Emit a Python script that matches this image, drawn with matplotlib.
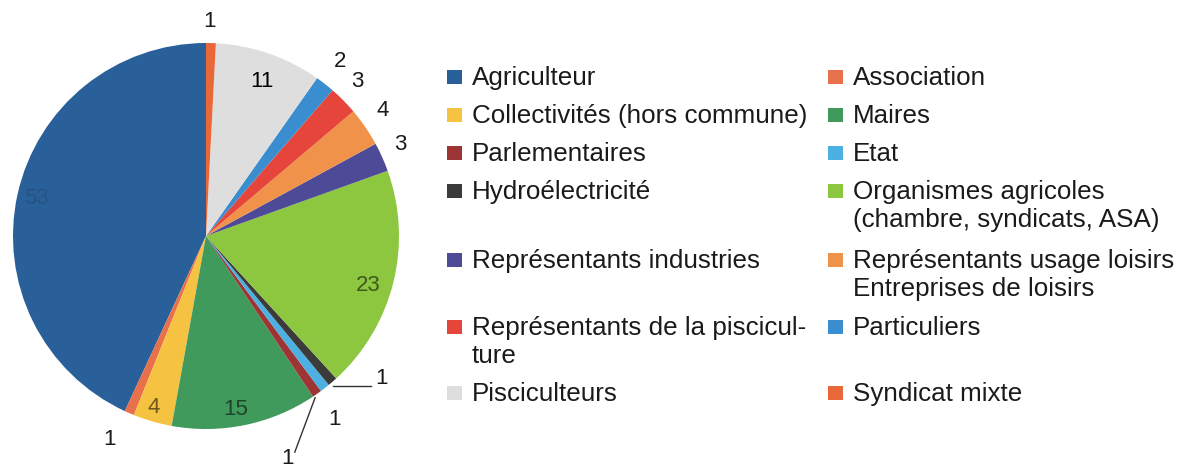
import matplotlib.pyplot as plt
import matplotlib.patches as mpatches
import numpy as np

plt.rcParams['font.family'] = ['Liberation Sans', 'DejaVu Sans']

# data, in the order the pie is drawn (counter-clockwise from the top)
categories = ['Agriculteur', 'Association', 'Collectivités (hors commune)', 'Maires',
              'Parlementaires', 'Etat', 'Hydroélectricité',
              'Organismes agricoles\n(chambre, syndicats, ASA)',
              'Représentants industries',
              'Représentants usage loisirs\nEntreprises de loisirs',
              'Représentants de la piscicul-\nture', 'Particuliers',
              'Pisciculteurs', 'Syndicat mixte']
values = [53, 1, 4, 15, 1, 1, 1, 23, 3, 4, 3, 2, 11, 1]
colors = ['#2a6099', '#e8704a', '#f5c242', '#3f9a5c', '#9e3535', '#4cb0e2',
          '#3b3b3b', '#8dc63f', '#4d4a98', '#f0924a', '#e6453b', '#3a8dce',
          '#dedede', '#e8683a']

fig = plt.figure(figsize=(11.79, 4.70), dpi=100)
ax = fig.add_axes([13 / 1179, 41 / 470, 386 / 1179, 386 / 470])
wedges, _ = ax.pie(values, colors=colors, startangle=90, counterclock=True,
                   wedgeprops=dict(linewidth=0))
ax.set_aspect('equal')
ax.set_xlim(-1, 1)
ax.set_ylim(-1, 1)

# label radius and angle nudge per slice
lab_r = [0.9, 1.17, 0.93, 0.91, 1.23, 1.16, 1.17, 0.88, 1.11, 1.12, 1.12, 1.14, 0.85, 1.11]
lab_da = [0, -2, -1, -2, -15, -3, 10, -3, 1, 1, 1, 0.5, -1, 0.5]
inside = [r < 1 for r in lab_r]

for w, v, r, da, ins, c in zip(wedges, values, lab_r, lab_da, inside, colors):
    ang = np.deg2rad((w.theta1 + w.theta2) / 2 + da)
    x, y = r * np.cos(ang), r * np.sin(ang)
    if ins:
        rgb = np.array(plt.matplotlib.colors.to_rgb(c))
        tc = 'black' if v == 11 else tuple(rgb * 0.45)
        if v == 53:
            tc = tuple(rgb * 0.86)
    else:
        tc = '#1a1a1a'
    ax.text(x, y, str(v), ha='center', va='center', fontsize=16, color=tc,
            clip_on=False)

# leader lines for the two small slices near the bottom right
w = wedges[6]
a = np.deg2rad((w.theta1 + w.theta2) / 2)
ax.plot([1.0 * np.cos(a), 0.855], [1.0 * np.sin(a) - 0.02, 1.0 * np.sin(a) - 0.02],
        color='#333333', lw=1, clip_on=False)
w = wedges[4]
a = np.deg2rad((w.theta1 + w.theta2) / 2)
ax.plot([1.0 * np.cos(a) - 0.01, 0.46], [1.0 * np.sin(a) - 0.02, -1.12],
        color='#333333', lw=1, clip_on=False)

# legend laid out as a two-column table
col_x = [447, 828]
row_y = [77, 115, 153, 191, 260, 327, 393]
H = 470.0
W = 1179.0
for i, (lab, c) in enumerate(zip(categories, colors)):
    row, col = divmod(i, 2)
    x0, y0 = col_x[col], row_y[row]
    fig.patches.append(mpatches.Rectangle((x0 / W, (H - y0 - 7) / H), 15 / W, 14 / H,
                                          transform=fig.transFigure, color=c, lw=0))
    fig.text((x0 + 25) / W, (H - y0 + 11) / H, lab, ha='left', va='top',
             fontsize=18.7, color='#1a1a1a', linespacing=1.2)

fig.savefig('out.png', dpi=100)
